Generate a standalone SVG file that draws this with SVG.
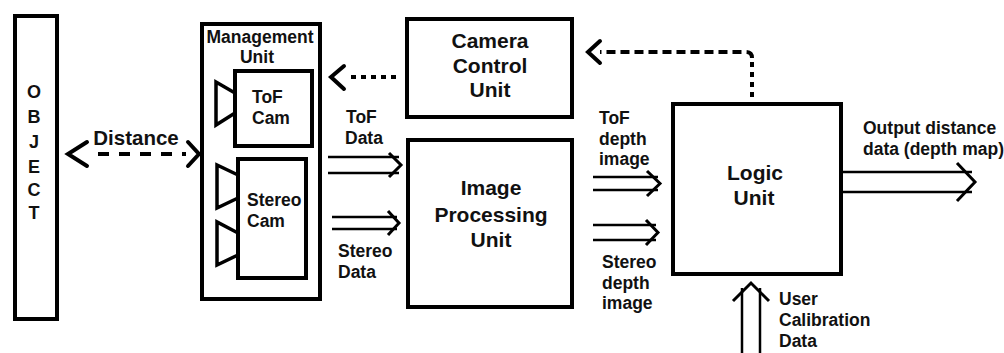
<svg xmlns="http://www.w3.org/2000/svg" width="1004" height="353" viewBox="0 0 1004 353">
<style>
.box{fill:#fff;stroke:#000;stroke-width:4}
.cam{fill:none;stroke:#000;stroke-width:3.5;stroke-linejoin:miter}
.t{font-family:"Liberation Sans",Arial,sans-serif;font-weight:bold;fill:#111}
.s{font-size:17.5px}
.b{font-size:21px}
.m{text-anchor:middle}
.dash{fill:none;stroke:#000;stroke-width:4}
.chev{fill:none;stroke:#000;stroke-width:4;stroke-linecap:round;stroke-linejoin:miter}
.dbl{fill:none;stroke:#000;stroke-width:2.5}
.head{fill:none;stroke:#000;stroke-width:3;stroke-linejoin:miter}
</style>
<rect width="1004" height="353" fill="#fff"/>
<g id="object">
<rect class="box" x="15" y="16" width="42" height="303"/>
<text class="t m" font-size="18" x="34" y="98">O</text>
<text class="t m" font-size="18" x="34" y="123">B</text>
<text class="t m" font-size="18" x="34" y="148">J</text>
<text class="t m" font-size="18" x="34" y="173">E</text>
<text class="t m" font-size="18" x="34" y="196">C</text>
<text class="t m" font-size="18" x="34" y="219">T</text>
</g>
<g id="management-unit">
<rect class="box" x="202" y="24" width="118" height="275" stroke-width="3.5"/>
<text class="t s m" x="260" y="43">Management</text>
<text class="t s m" x="257" y="63">Unit</text>
</g>
<g id="tof-cam">
<rect class="box" x="235" y="71" width="77" height="75"/>
<polyline class="cam" points="235,93 216,82 216,125 235,113"/>
<text class="t s" x="252" y="103">ToF</text>
<text class="t s" x="252" y="124">Cam</text>
</g>
<g id="stereo-cam">
<rect class="box" x="238" y="159" width="68" height="119"/>
<polyline class="cam" points="238,175 217,165 217,208 238,198"/>
<polyline class="cam" points="238,233 217,222 217,265 238,255"/>
<text class="t s" x="247" y="206">Stereo</text>
<text class="t s" x="247" y="227">Cam</text>
</g>
<g id="camera-control-unit">
<rect class="box" x="407" y="19" width="165" height="98"/>
<text class="t b m" x="490" y="48">Camera</text>
<text class="t b m" x="490" y="73">Control</text>
<text class="t b m" x="490" y="97">Unit</text>
</g>
<g id="image-processing-unit">
<rect class="box" x="408" y="140" width="164" height="167"/>
<text class="t b m" x="491" y="195">Image</text>
<text class="t b m" x="491" y="222">Processing</text>
<text class="t b m" x="491" y="247">Unit</text>
</g>
<g id="logic-unit">
<rect class="box" x="673" y="104" width="168" height="170"/>
<text class="t b m" x="755" y="180">Logic</text>
<text class="t b m" x="754" y="205">Unit</text>
</g>
<g id="connectors">
<line class="dash" x1="98" y1="154" x2="186" y2="154" stroke-dasharray="11 10"/>
<polyline class="chev" points="87,142 68,154 87,166"/>
<polyline class="chev" points="188,142 199,154 188,166"/>
<text class="t m" font-size="20.5" x="136" y="145">Distance</text>

<line class="dash" x1="396" y1="77" x2="350" y2="77" stroke-dasharray="5 5"/>
<polyline class="chev" points="344,66 331,77 344,89"/>

<line class="dash" x1="752" y1="97" x2="752" y2="58" stroke-dasharray="5 5"/>
<path class="dash" d="M 752 58 Q 752 52 746 52 H 600" stroke-dasharray="9 5"/>
<polyline class="chev" points="600,41 588,52 600,63"/>

<line class="dbl" x1="328" y1="157" x2="399" y2="157"/>
<line class="dbl" x1="328" y1="173" x2="399" y2="173"/>
<polyline class="head" points="389,153 401,165 389,177"/>
<text class="t s" x="346" y="123">ToF</text>
<text class="t s" x="345" y="144">Data</text>

<line class="dbl" x1="332" y1="217" x2="397" y2="217"/>
<line class="dbl" x1="332" y1="229" x2="397" y2="229"/>
<polyline class="head" points="388,211 399,223 388,235"/>
<text class="t s" x="338" y="257">Stereo</text>
<text class="t s" x="338" y="278">Data</text>

<line class="dbl" x1="593" y1="177" x2="658" y2="177"/>
<line class="dbl" x1="593" y1="190" x2="658" y2="190"/>
<polyline class="head" points="647,171 660,183.5 647,196"/>
<text class="t s" x="599" y="124">ToF</text>
<text class="t s" x="599" y="144.5">depth</text>
<text class="t s" x="599" y="165">image</text>

<line class="dbl" x1="593" y1="225" x2="656" y2="225"/>
<line class="dbl" x1="593" y1="240" x2="656" y2="240"/>
<polyline class="head" points="646,220 658,232.5 646,245"/>
<text class="t s" x="602" y="268">Stereo</text>
<text class="t s" x="602" y="289">depth</text>
<text class="t s" x="602" y="309">image</text>

<line class="dbl" x1="841" y1="172" x2="972" y2="172" stroke-width="3"/>
<line class="dbl" x1="841" y1="192" x2="972" y2="192" stroke-width="3"/>
<polyline class="head" points="957,163 975,182 957,201"/>
<text class="t s" x="863" y="134">Output distance</text>
<text class="t s" x="863" y="155">data (depth map)</text>

<line class="dbl" x1="742" y1="353" x2="742" y2="288" stroke-width="3"/>
<line class="dbl" x1="760" y1="353" x2="760" y2="288" stroke-width="3"/>
<polyline class="head" points="733,301 751,283 769,301"/>
<text class="t s" x="779" y="305">User</text>
<text class="t s" x="779" y="326">Calibration</text>
<text class="t s" x="779" y="347">Data</text>
</g>
</svg>
